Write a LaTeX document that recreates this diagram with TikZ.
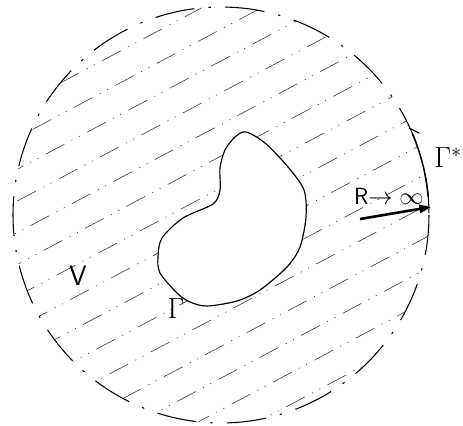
\documentclass[tikz,border=0pt]{standalone}
\usetikzlibrary{arrows.meta}
\tikzset{every picture/.style={line width=0.75pt}}
\tikzset{
  hatch/.style={line width=0.45pt, black!85, dash pattern=on 18pt off 7pt on 1pt off 6pt on 1pt off 7pt},
  rim/.style={line width=0.9pt, dash pattern=on 34pt off 12pt on 2pt off 12pt},
  lbl/.style={inner sep=0pt, font=\fontsize{24}{26}\selectfont}
}

\begin{document}
\begin{tikzpicture}[x=0.03cm, y=-0.03cm]
    \useasboundingbox (0,0) rectangle (463,426);
    % Schraffur
    \begin{scope}[shift={(221,215)}, rotate=28]
        \clip (0,0) circle[radius=208];
        \foreach \k in {-7,...,7}
            \draw[hatch] (-220,\k*28+4) -- (220,\k*28+4);
    \end{scope}
    % grosser Kreis
    \draw[rim] (221,215) circle[radius=208];
    \draw[line width=1.3pt] (221,215) ++(-23:208) arc[start angle=-23, end angle=-5, radius=208];
    \draw[line width=1pt] (409,128) -- (419,133);
    % Gebiet
    \fill[white] plot[smooth cycle] coordinates {(246,132) (265,143) (288,167) (304,190) (306,217) (300,247) (287,267) (260,290) (237,301) (207,306) (190,302) (177,293) (160,273) (158,257) (162,238) (183,218) (213,204) (220,190) (220,168) (225,150) (235,137)};
    \draw[line width=1pt] plot[smooth cycle] coordinates {(246,132) (265,143) (288,167) (304,190) (306,217) (300,247) (287,267) (260,290) (237,301) (207,306) (190,302) (177,293) (160,273) (158,257) (162,238) (183,218) (213,204) (220,190) (220,168) (225,150) (235,137)};
    % Beschriftung
    \node[lbl] (vol) at (78,276) {\textsf{V}};
    \node[lbl] (gam) at (176,309) {$\Gamma$};
    \node[lbl] (gamstar) at (448,158) {$\Gamma^{*}$};
    \node[inner sep=0pt, font=\fontsize{20}{22}\selectfont] (lim) at (389,196) {\textsf{R}$\rightarrow\infty$};
    % Pfeil
    \coordinate (rtail) at (360,219);
    \coordinate (rtip) at (431,207);
    \draw[line width=2.2pt, -{Triangle[length=10pt,width=7pt]}] (rtail) -- (rtip);
\end{tikzpicture}
\end{document}
